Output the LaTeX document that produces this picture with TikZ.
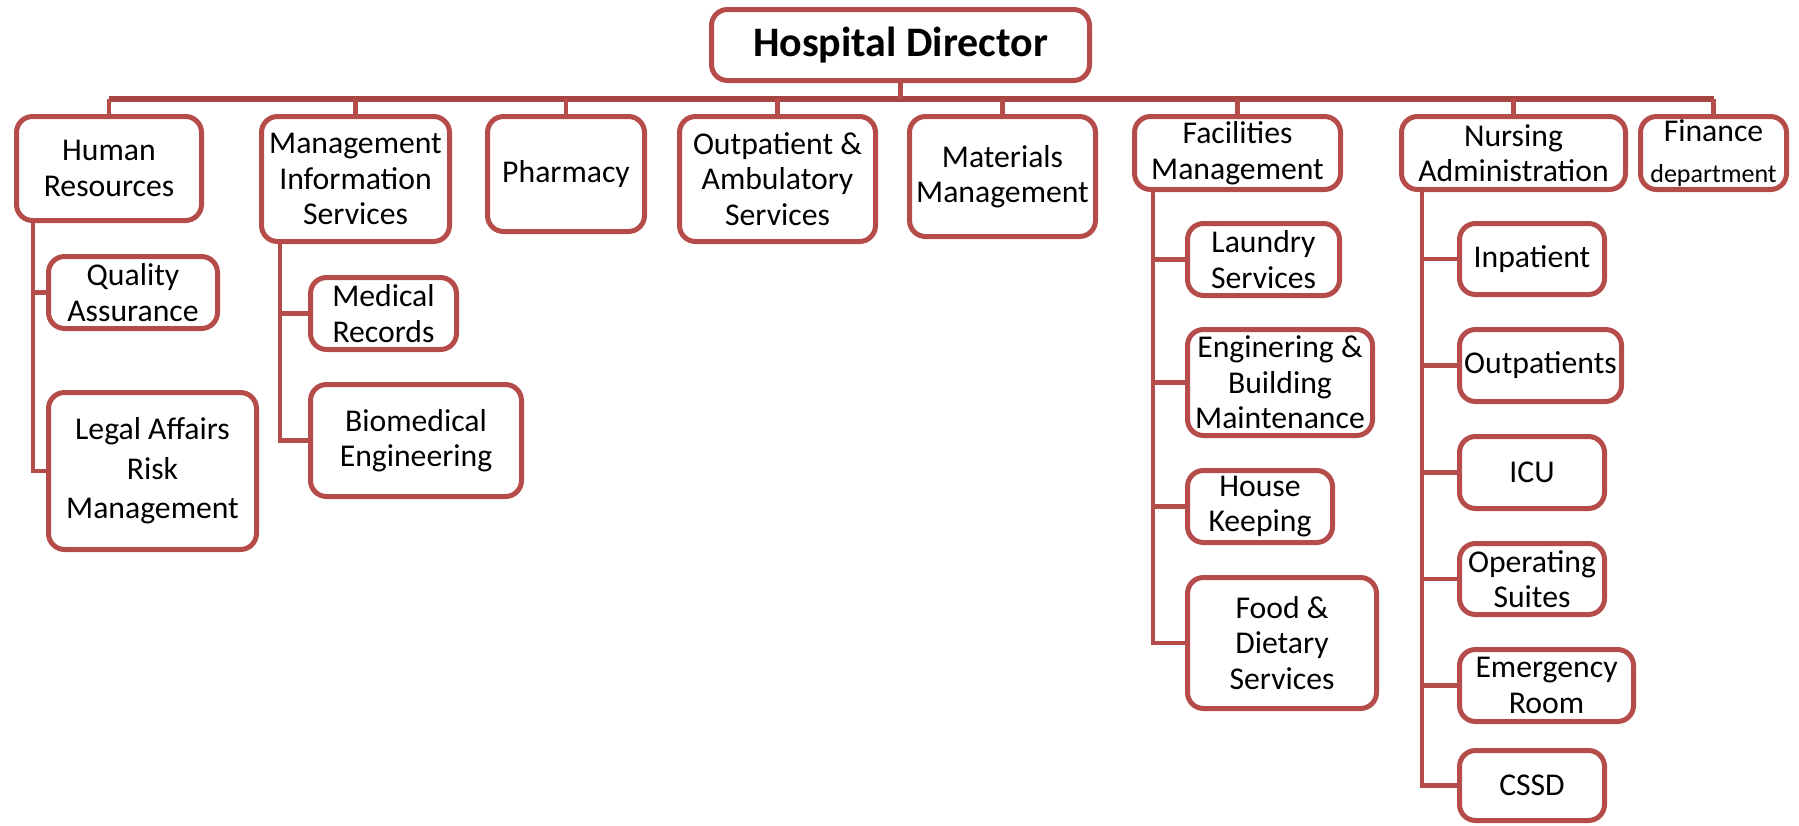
\documentclass[tikz,border=0pt]{standalone}
\usepackage{fontspec}
\setmainfont{Carlito}
\definecolor{boxred}{RGB}{181,76,73}
\definecolor{busred}{RGB}{166,68,66}
\begin{document}
\begin{tikzpicture}[x=1pt,y=-1pt,
  box/.style={draw=boxred, line width=5pt, rounded corners=16pt, fill=white,
    inner sep=0pt, outer sep=0pt, align=center,
    font=\fontsize{31.7}{35.5}\selectfont},
  link/.style={draw=boxred, line width=4.5pt},
  bus/.style={draw=busred, line width=6pt}]
\useasboundingbox (0,0) rectangle (1799,825);
\coordinate (bus) at (0,98.5);
% top level
\node[box, minimum width=378pt, minimum height=71pt, font=\fontsize{42}{46}\selectfont\bfseries] (dir) at (900.5,45) {Hospital Director};
\node[box, minimum width=185pt, minimum height=104pt] (hr) at (109,168.5) {Human\\Resources};
\node[box, minimum width=188pt, minimum height=125pt] (mis) at (355.5,179) {Management\\Information\\Services};
\node[box, minimum width=157pt, minimum height=115pt] (pha) at (566,174) {Pharmacy};
\node[box, minimum width=196pt, minimum height=125pt] (opa) at (777.5,179) {Outpatient \&\\Ambulatory\\Services};
\node[box, minimum width=186pt, minimum height=120pt] (mat) at (1002.5,176.5) {Materials\\Management};
\node[box, minimum width=206pt, minimum height=73pt] (fac) at (1237.5,153) {Facilities\\Management};
\node[box, minimum width=224pt, minimum height=73pt] (nur) at (1513.5,153) {Nursing\\Administration};
\node[box, minimum width=146pt, minimum height=73pt] (fin) at (1713.5,153) {Finance\\[5pt]{\fontsize{26}{30}\selectfont department}};
% HR children
\node[box, minimum width=169pt, minimum height=72pt] (qa) at (133,292.5) {Quality\\Assurance};
\node[box, minimum width=208pt, minimum height=157pt, font=\fontsize{31.7}{39.5}\selectfont] (leg) at (152.5,471) {Legal Affairs\\Risk\\Management};
% MIS children
\node[box, minimum width=146pt, minimum height=72pt] (mr) at (383.5,313.5) {Medical\\Records};
\node[box, minimum width=211pt, minimum height=112pt] (bio) at (416,440.5) {Biomedical\\Engineering};
% Facilities children
\node[box, minimum width=152pt, minimum height=72pt] (lau) at (1263.5,259.5) {Laundry\\Services};
\node[box, minimum width=185pt, minimum height=106pt] (eng) at (1280,382.5) {Enginering \&\\Building\\Maintenance};
\node[box, minimum width=145pt, minimum height=72pt] (hk) at (1260,506.5) {House\\Keeping};
\node[box, minimum width=189pt, minimum height=131pt] (food) at (1282,643) {Food \&\\Dietary\\Services};
% Nursing children
\node[box, minimum width=145pt, minimum height=71pt] (inp) at (1532,259) {Inpatient};
\node[box, minimum width=162pt, minimum height=72pt] (outp) at (1540.5,365.5) {Outpatients};
\node[box, minimum width=145pt, minimum height=72pt] (icu) at (1532,472.5) {ICU};
\node[box, minimum width=145pt, minimum height=71pt] (ops) at (1532,579) {Operating\\Suites};
\node[box, minimum width=174pt, minimum height=72pt] (er) at (1546.5,685.5) {Emergency\\Room};
\node[box, minimum width=145pt, minimum height=70pt] (cssd) at (1532,785.5) {CSSD};
% spine coordinates
\coordinate (hrs) at (33,223);
\coordinate (miss) at (280,244);
\coordinate (facs) at (1153,192);
\coordinate (nurs) at (1422,192);
% connectors
\draw[bus] (hr.north |- bus) -- (fin.north |- bus);
\foreach \n in {hr,mis,pha,opa,mat,fac,nur,fin} {\draw[link] (\n.north) -- (\n.north |- bus);}
\draw[link] (dir.south) -- (dir.south |- bus);
\draw[link] (hrs) |- (leg.west);
\draw[link] (hrs |- qa.west) -- (qa.west);
\draw[link] (miss) |- (bio.west);
\draw[link] (miss |- mr.west) -- (mr.west);
\draw[link] (facs) |- (food.west);
\foreach \n in {lau,eng,hk} {\draw[link] (facs |- \n.west) -- (\n.west);}
\draw[link] (nurs) |- (cssd.west);
\foreach \n in {inp,outp,icu,ops,er} {\draw[link] (nurs |- \n.west) -- (\n.west);}
\end{tikzpicture}
\end{document}
